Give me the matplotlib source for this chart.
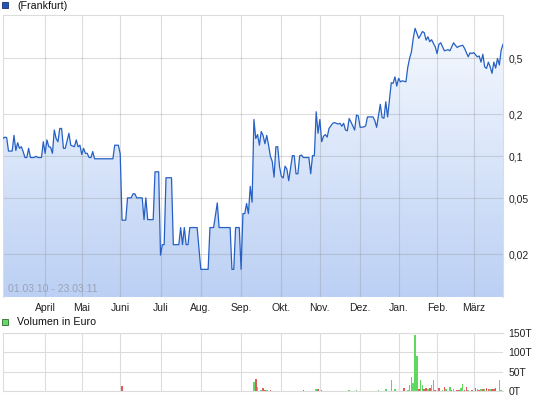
# Kursverlauf (Frankfurt) mit Umsatz in Euro, 01.03.10 - 23.03.11
import numpy as np
import pandas as pd
import matplotlib
matplotlib.use('Agg')
import matplotlib.pyplot as plt
from matplotlib.colors import LinearSegmentedColormap
from matplotlib.patches import Rectangle

plt.rcParams['font.family'] = ['Liberation Sans', 'DejaVu Sans']

# Handelstage (x-Achse laeuft in Handelstagen, nicht in Kalendertagen)
feiertage = ['2010-04-02', '2010-04-05', '2010-12-24', '2010-12-31']
handelstage = pd.bdate_range('2010-03-01', '2011-03-23')
handelstage = handelstage[~handelstage.isin(pd.to_datetime(feiertage))]

# Kurs in Euro
kurs_datum = [
    '2010-03-01', '2010-03-02', '2010-03-03', '2010-03-04', '2010-03-08', '2010-03-09', '2010-03-10',
    '2010-03-11', '2010-03-12', '2010-03-15', '2010-03-16', '2010-03-17', '2010-03-18', '2010-03-19',
    '2010-03-22', '2010-03-24', '2010-03-25', '2010-03-26', '2010-03-30', '2010-03-31', '2010-04-01',
    '2010-04-06', '2010-04-07', '2010-04-08', '2010-04-09', '2010-04-12', '2010-04-13', '2010-04-14',
    '2010-04-15', '2010-04-16', '2010-04-19', '2010-04-20', '2010-04-22', '2010-04-23', '2010-04-27',
    '2010-04-28', '2010-04-29', '2010-04-30', '2010-05-03', '2010-05-04', '2010-05-05', '2010-05-06',
    '2010-05-07', '2010-05-10', '2010-05-11', '2010-05-12', '2010-05-26', '2010-05-27', '2010-05-31',
    '2010-06-01', '2010-06-02', '2010-06-04', '2010-06-07', '2010-06-09', '2010-06-10', '2010-06-11',
    '2010-06-14', '2010-06-17', '2010-06-18', '2010-06-21', '2010-06-22', '2010-06-25', '2010-06-28',
    '2010-06-30', '2010-07-01', '2010-07-02', '2010-07-05', '2010-07-06', '2010-07-09', '2010-07-12',
    '2010-07-15', '2010-07-16', '2010-07-19', '2010-07-20', '2010-07-21', '2010-07-22', '2010-07-23',
    '2010-07-29', '2010-08-02', '2010-08-06', '2010-08-09', '2010-08-11', '2010-08-13', '2010-08-16',
    '2010-08-24', '2010-08-25', '2010-08-26', '2010-08-27', '2010-08-31', '2010-09-01', '2010-09-02',
    '2010-09-03', '2010-09-06', '2010-09-07', '2010-09-08', '2010-09-09', '2010-09-10', '2010-09-13',
    '2010-09-14', '2010-09-15', '2010-09-16', '2010-09-17', '2010-09-20', '2010-09-21', '2010-09-22',
    '2010-09-23', '2010-09-24', '2010-09-27', '2010-09-28', '2010-09-29', '2010-09-30', '2010-10-01',
    '2010-10-04', '2010-10-05', '2010-10-06', '2010-10-07', '2010-10-11', '2010-10-12', '2010-10-13',
    '2010-10-14', '2010-10-15', '2010-10-18', '2010-10-19', '2010-10-22', '2010-10-25', '2010-10-26',
    '2010-10-27', '2010-10-28', '2010-10-29', '2010-11-01', '2010-11-02', '2010-11-03', '2010-11-04',
    '2010-11-05', '2010-11-08', '2010-11-10', '2010-11-11', '2010-11-15', '2010-11-16', '2010-11-17',
    '2010-11-18', '2010-11-19', '2010-11-22', '2010-11-23', '2010-11-24', '2010-11-26', '2010-11-29',
    '2010-11-30', '2010-12-01', '2010-12-03', '2010-12-06', '2010-12-07', '2010-12-10', '2010-12-13',
    '2010-12-14', '2010-12-16', '2010-12-17', '2010-12-20', '2010-12-21', '2010-12-22', '2010-12-27',
    '2010-12-28', '2010-12-29', '2010-12-30', '2011-01-03', '2011-01-04', '2011-01-05', '2011-01-07',
    '2011-01-10', '2011-01-11', '2011-01-12', '2011-01-13', '2011-01-14', '2011-01-18', '2011-01-19',
    '2011-01-20', '2011-01-21', '2011-01-24', '2011-01-25', '2011-01-26', '2011-01-27', '2011-01-28',
    '2011-01-31', '2011-02-01', '2011-02-02', '2011-02-03', '2011-02-07', '2011-02-09', '2011-02-10',
    '2011-02-14', '2011-02-15', '2011-02-16', '2011-02-17', '2011-02-21', '2011-02-22', '2011-02-24',
    '2011-02-25', '2011-02-28', '2011-03-01', '2011-03-03', '2011-03-04', '2011-03-07', '2011-03-08',
    '2011-03-09', '2011-03-10', '2011-03-11', '2011-03-14', '2011-03-15', '2011-03-16', '2011-03-17',
    '2011-03-18', '2011-03-21', '2011-03-22', '2011-03-23',
]
kurs = [
    0.134, 0.137, 0.136, 0.109, 0.109, 0.141, 0.110,
    0.125, 0.114, 0.117, 0.108, 0.098, 0.098, 0.114,
    0.098, 0.098, 0.100, 0.098, 0.098, 0.127, 0.105,
    0.131, 0.117, 0.116, 0.105, 0.154, 0.134, 0.127,
    0.158, 0.158, 0.114, 0.114, 0.146, 0.120, 0.117,
    0.131, 0.117, 0.120, 0.103, 0.114, 0.105, 0.105,
    0.098, 0.098, 0.108, 0.096, 0.096, 0.120, 0.120,
    0.104, 0.035, 0.035, 0.0505, 0.0505, 0.054, 0.054,
    0.0505, 0.0505, 0.0353, 0.0505, 0.0353, 0.0353, 0.0775,
    0.0775, 0.0197, 0.0234, 0.0234, 0.0703, 0.0703, 0.0234,
    0.0234, 0.031, 0.0234, 0.031, 0.0234, 0.0234, 0.031,
    0.031, 0.0156, 0.0156, 0.031, 0.031, 0.0465, 0.031,
    0.031, 0.0156, 0.0156, 0.031, 0.031, 0.0156, 0.039,
    0.039, 0.046, 0.039, 0.061, 0.047, 0.183, 0.134,
    0.143, 0.120, 0.150, 0.141, 0.123, 0.141, 0.120,
    0.100, 0.092, 0.071, 0.117, 0.117, 0.084, 0.072,
    0.070, 0.085, 0.081, 0.067, 0.101, 0.101, 0.075,
    0.075, 0.101, 0.102, 0.098, 0.098, 0.075, 0.101,
    0.101, 0.208, 0.146, 0.183, 0.127, 0.139, 0.143,
    0.137, 0.158, 0.172, 0.174, 0.170, 0.172, 0.164,
    0.172, 0.154, 0.152, 0.186, 0.176, 0.154, 0.197,
    0.194, 0.161, 0.162, 0.165, 0.191, 0.191, 0.180,
    0.161, 0.235, 0.189, 0.187, 0.245, 0.191, 0.335,
    0.332, 0.369, 0.317, 0.360, 0.340, 0.346, 0.340,
    0.431, 0.500, 0.556, 0.695, 0.819, 0.695, 0.733,
    0.777, 0.763, 0.675, 0.713, 0.657, 0.680, 0.640,
    0.605, 0.541, 0.630, 0.646, 0.566, 0.577, 0.566,
    0.646, 0.620, 0.598, 0.610, 0.620, 0.590, 0.513,
    0.548, 0.541, 0.550, 0.513, 0.520, 0.470, 0.535,
    0.435, 0.424, 0.470, 0.435, 0.391, 0.470, 0.426,
    0.500, 0.448, 0.573, 0.630,
]

# Umsatz in Tausend Euro, mit Richtung des Kurses am Tag
vol_datum = [
    '2010-06-02', '2010-09-10', '2010-09-13', '2010-09-14', '2010-09-16', '2010-09-17', '2010-09-20',
    '2010-09-21', '2010-09-22', '2010-09-23', '2010-09-27', '2010-09-28', '2010-10-15', '2010-10-18',
    '2010-10-19', '2010-10-22', '2010-10-28', '2010-10-29', '2010-11-01', '2010-11-02', '2010-11-23',
    '2010-11-24', '2010-11-29', '2010-12-08', '2010-12-09', '2010-12-10', '2010-12-15', '2010-12-16',
    '2010-12-17', '2010-12-21', '2010-12-23', '2010-12-27', '2010-12-29', '2011-01-03', '2011-01-04',
    '2011-01-06', '2011-01-07', '2011-01-10', '2011-01-11', '2011-01-12', '2011-01-13', '2011-01-14',
    '2011-01-17', '2011-01-18', '2011-01-19', '2011-01-20', '2011-01-21', '2011-01-24', '2011-01-25',
    '2011-01-26', '2011-01-27', '2011-01-28', '2011-01-31', '2011-02-02', '2011-02-03', '2011-02-04',
    '2011-02-07', '2011-02-08', '2011-02-09', '2011-02-10', '2011-02-11', '2011-02-14', '2011-02-15',
    '2011-02-16', '2011-02-17', '2011-02-18', '2011-02-21', '2011-02-22', '2011-02-23', '2011-02-24',
    '2011-02-25', '2011-02-28', '2011-03-02', '2011-03-03', '2011-03-04', '2011-03-07', '2011-03-08',
    '2011-03-09', '2011-03-10', '2011-03-11', '2011-03-14', '2011-03-15', '2011-03-16', '2011-03-17',
    '2011-03-21', '2011-03-22',
]
vol = [
    13, 24, 31, 10, 3.5, 8, 2,
    3, 1, 3, 0.5, 0.5, 1, 1,
    3, 0.5, 5, 5, 1, 3, 3,
    1, 3, 0.5, 0.5, 0.5, 3, 1,
    1, 5, 1, 28, 4, 1, 1,
    8, 1, 3, 16, 36, 20, 145,
    90, 4, 28, 15, 4, 9, 5,
    7, 15, 28, 3, 8, 1, 3,
    10, 4, 1, 10, 3, 5, 1,
    3, 3, 9, 19, 3, 10, 2,
    0.5, 3, 9, 5, 3, 5, 4,
    6, 9, 6, 6, 4, 4, 9,
    28, 3,
]
vol_richtung = [
    'ab', 'auf', 'ab', 'auf', 'auf', 'ab', 'ab',
    'auf', 'ab', 'ab', 'auf', 'auf', 'auf', 'auf',
    'ab', 'gleich', 'auf', 'ab', 'auf', 'ab', 'auf',
    'ab', 'auf', 'gleich', 'gleich', 'gleich', 'auf', 'auf',
    'ab', 'auf', 'ab', 'auf', 'auf', 'ab', 'ab',
    'ab', 'gleich', 'auf', 'auf', 'auf', 'auf', 'auf',
    'auf', 'ab', 'auf', 'auf', 'ab', 'ab', 'auf',
    'ab', 'auf', 'auf', 'ab', 'ab', 'auf', 'auf',
    'ab', 'auf', 'ab', 'auf', 'ab', 'auf', 'ab',
    'ab', 'ab', 'auf', 'auf', 'ab', 'ab', 'auf',
    'gleich', 'ab', 'ab', 'auf', 'ab', 'auf', 'ab',
    'auf', 'ab', 'ab', 'auf', 'ab', 'ab', 'ab',
    'auf', 'auf',
]

monate = ['April', 'Mai', 'Juni', 'Juli', 'Aug.', 'Sep.', 'Okt.', 'Nov.', 'Dez.', 'Jan.', 'Feb.', 'März']
y_ticks = [0.02, 0.05, 0.1, 0.2, 0.5]
y_labels = ['0,02', '0,05', '0,1', '0,2', '0,5']
vol_ticks = [0, 50, 100, 150]
vol_labels = ['0T', '50T', '100T', '150T']

# Positionen auf der Handelstag-Achse
x_kurs = handelstage.get_indexer(pd.to_datetime(kurs_datum))
x_vol = handelstage.get_indexer(pd.to_datetime(vol_datum))
monat_neu = np.r_[False, handelstage.month[1:] != handelstage.month[:-1]]
monat_pos = np.where(monat_neu)[0]

W, H = 545, 401
fig = plt.figure(figsize=(W / 100, H / 100), dpi=100)
ax = fig.add_axes([3 / W, 1 - 297 / H, 500 / W, 282 / H])
axv = fig.add_axes([3 / W, 1 - 391 / H, 500 / W, 58 / H])

grid_farbe = '#dcdcdc'

# Kurs-Chart mit Farbverlauf unter der Linie
ax.set_yscale('log')
flaeche = ax.fill_between(x_kurs, kurs, 0.001, facecolor='none', edgecolor='none')
cmap = LinearSegmentedColormap.from_list('blau', ['#bbd0f4', '#f8fbff'])
verlauf = np.linspace(0, 1, 256).reshape(-1, 1)
img = ax.imshow(verlauf, cmap=cmap, extent=[0, 1, 0, 1], transform=ax.transAxes,
                aspect='auto', origin='lower', zorder=1)
img.set_clip_path(flaeche.get_paths()[0], transform=ax.transData)
ax.plot(x_kurs, kurs, color='#2660c4', linewidth=0.9, zorder=3)

ax.set_xlim(0, len(handelstage) - 1)
ax.set_ylim(0.0099, 1.02)
ax.set_xticks(monat_pos)
ax.set_xticklabels(monate)
ax.set_yticks(y_ticks)
ax.set_yticklabels(y_labels)
ax.minorticks_off()
ax.yaxis.tick_right()
ax.tick_params(length=0, labelsize=7.5, colors='#222222')
ax.tick_params(axis='x', pad=4)
ax.tick_params(axis='y', pad=4)
ax.set_axisbelow('line')
ax.grid(True, color='#8c8c8c', alpha=0.3, linewidth=0.8)
for s in ['left', 'right', 'top']:
    ax.spines[s].set_color(grid_farbe)
    ax.spines[s].set_linewidth(0.8)
ax.spines['bottom'].set_visible(False)

ax.text(0.01, 0.012, '01.03.10 - 23.03.11', transform=ax.transAxes, fontsize=7.5,
        color='#9aa3b5', va='bottom', ha='left', zorder=4)

# Umsatz-Chart
farben = {'auf': '#5fd85f', 'ab': '#e05a5a', 'gleich': '#b0b0b0'}
axv.bar(x_vol, vol, width=0.85, color=[farben[r] for r in vol_richtung],
        linewidth=0, antialiased=False, zorder=2)
axv.set_xlim(0, len(handelstage) - 1)
axv.set_ylim(0, 150)
axv.set_xticks(monat_pos)
axv.set_xticklabels([])
axv.set_yticks(vol_ticks)
axv.set_yticklabels(vol_labels)
axv.yaxis.tick_right()
axv.tick_params(length=0, labelsize=7.5, colors='#222222', pad=4)
axv.set_axisbelow(True)
axv.grid(True, color=grid_farbe, linewidth=0.8)
for s in ['left', 'top', 'bottom']:
    axv.spines[s].set_color(grid_farbe)
    axv.spines[s].set_linewidth(0.8)
axv.spines['right'].set_visible(False)

# Legenden oben links
fig.add_artist(Rectangle((2 / W, 1 - 8 / H), 6 / W, 6 / H, transform=fig.transFigure,
                         facecolor='#2156b8', edgecolor='#1b2f66', linewidth=0.6))
fig.text(17 / W, 1 - 6 / H, '(Frankfurt)', fontsize=7.7, va='center', ha='left', color='#111111')
fig.add_artist(Rectangle((2 / W, 1 - 325 / H), 6 / W, 6 / H, transform=fig.transFigure,
                         facecolor='#66d866', edgecolor='#2f6b2f', linewidth=0.6))
fig.text(17 / W, 1 - 322 / H, 'Volumen in Euro', fontsize=7.7, va='center', ha='left', color='#111111')

plt.savefig('out.png', dpi=100)
